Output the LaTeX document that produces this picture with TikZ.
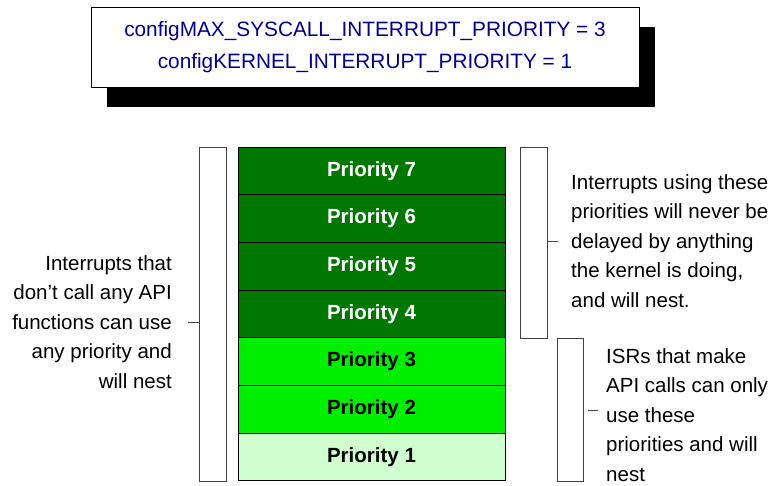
\documentclass[tikz,border=0pt]{standalone}
\usepackage{fontspec}
\setmainfont{Liberation Sans}
\begin{document}
\begin{tikzpicture}[x=1pt,y=-1pt,
  prio/.style={draw=black,line width=0.9pt,minimum width=267pt,minimum height=47.7pt,inner sep=0pt,outer sep=0pt,
    font=\fontsize{20.5}{24}\selectfont\bfseries},
  hi/.style={prio,fill=darkg,text=white},
  mid/.style={prio,fill=brightg,text=black},
  low/.style={prio,fill=lightg,text=black},
  brack/.style={draw=black!75,line width=1pt,fill=white,inner sep=0pt,outer sep=0pt},
  tick/.style={draw=black!75,line width=1pt},
  note/.style={font=\fontsize{20.5}{29.5}\selectfont,inner sep=0pt}]
\definecolor{darkg}{RGB}{0,120,0}
\definecolor{brightg}{RGB}{0,238,0}
\definecolor{lightg}{RGB}{208,255,208}
\definecolor{navy}{RGB}{0,0,140}
\useasboundingbox (0,0) rectangle (774,485);
% top config box with shadow
\fill[black] (107,27) rectangle (655,107);
\node[draw=black,line width=0.8pt,fill=white,minimum width=548pt,minimum height=80pt,inner sep=0pt,outer sep=0pt,
  anchor=north west,text=navy,align=center,font=\fontsize{20.8}{32}\selectfont] (cfg) at (91,7)
  {configMAX\_SYSCALL\_INTERRUPT\_PRIORITY = 3\\configKERNEL\_INTERRUPT\_PRIORITY = 1};
% priority stack
\node[hi,anchor=north west] (p7) at (238,147) {Priority 7};
\node[hi,anchor=north] (p6) at (p7.south) {Priority 6};
\node[hi,anchor=north] (p5) at (p6.south) {Priority 5};
\node[hi,anchor=north] (p4) at (p5.south) {Priority 4};
\node[mid,anchor=north] (p3) at (p4.south) {Priority 3};
\node[mid,anchor=north] (p2) at (p3.south) {Priority 2};
\node[low,anchor=north] (p1) at (p2.south) {Priority 1};
% brackets
\node[brack,anchor=north west,minimum width=27pt,minimum height=334pt] (bl) at (199,147) {};
\node[brack,anchor=north west,minimum width=27pt,minimum height=191pt] (bu) at (520,147) {};
\node[brack,anchor=north west,minimum width=26pt,minimum height=143pt] (bd) at (557,338) {};
% ticks
\coordinate (tl) at (188,322);
\draw[tick] (bl.west |- tl) -- (tl);
\coordinate (tu) at (558,241);
\draw[tick] (bu.east |- tu) -- (tu);
\coordinate (td1) at (588,410);
\coordinate (td2) at (598,410);
\draw[tick] (td1) -- (td2);
% notes
\node[note,anchor=east,align=right] (nl) at (172,322)
  {Interrupts that\\don’t call any API\\functions can use\\any priority and\\will nest};
\node[note,anchor=west,align=left] (nu) at (571,241)
  {Interrupts using these\\priorities will never be\\delayed by anything\\the kernel is doing,\\and will nest.};
\node[note,anchor=west,align=left] (nd) at (606,415)
  {ISRs that make\\API calls can only\\use these\\priorities and will\\nest};
\end{tikzpicture}
\end{document}
